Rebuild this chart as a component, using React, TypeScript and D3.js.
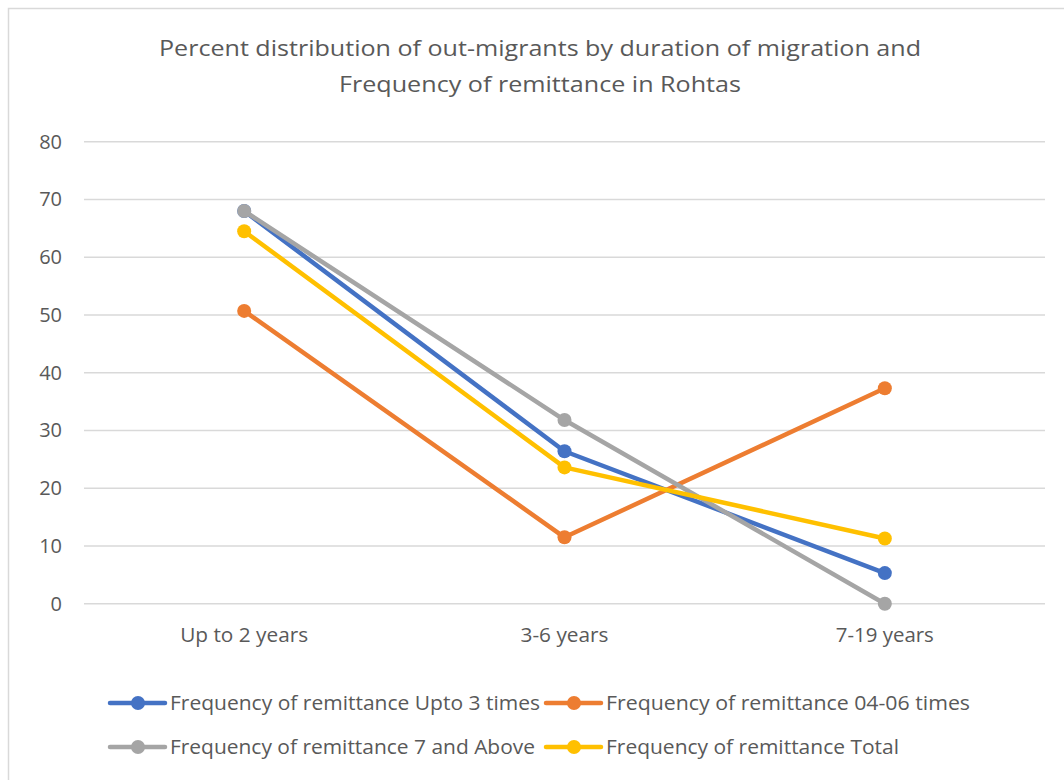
import React from 'react';
import { scaleBand, scaleLinear, line } from 'd3';

// chart values
const categories = ['Up to 2 years', '3-6 years', '7-19 years'];
const seriesNames = [
  'Frequency of remittance Upto 3 times',
  'Frequency of remittance 04-06 times',
  'Frequency of remittance 7 and Above',
  'Frequency of remittance Total',
];
const upto3 = [68.0, 26.4, 5.3];
const times4to6 = [50.7, 11.5, 37.3];
const sevenAbove = [68.0, 31.8, 0];
const total = [64.5, 23.6, 11.3];
const yTicks = [0, 10, 20, 30, 40, 50, 60, 70, 80];
const colors = ['#4472C4', '#ED7D31', '#A5A5A5', '#FFC000'];

const W = 1064;
const H = 780;
const font = '"Open Sans", "Noto Sans", sans-serif';
const textColor = '#595959';

export default function App() {
  const series = [upto3, times4to6, sevenAbove, total];

  const x = scaleBand<string>().domain(categories).range([84, 1045]);
  const y = scaleLinear().domain([0, 80]).range([603.7, 141.7]);
  const cx = (i: number) => (x(categories[i]) as number) + x.bandwidth() / 2;

  const lineGen = line<number>()
    .x((_, i) => cx(i))
    .y(d => y(d));

  // approximate rendered widths in the reference, for fitting the fallback font
  const catWidths = [128, 88, 98];
  const legendWidths = [370, 364, 365, 293];

  // legend layout: two columns, two rows
  const legendPos = [
    { lx: 110, ly: 703 },
    { lx: 546, ly: 703 },
    { lx: 110, ly: 747 },
    { lx: 546, ly: 747 },
  ];

  return (
    <svg width={W} height={H} style={{ position: 'absolute', left: 0, top: 0, background: '#fff' }}>
      <rect x={8.5} y={8.5} width={1100} height={800} fill="#fff" stroke="#d9d9d9" strokeWidth={1.5} />

      {/* title */}
      <text x={540} y={56} textAnchor="middle" fontFamily={font} fontSize={22} fill={textColor} textLength={762} lengthAdjust="spacingAndGlyphs">
        Percent distribution of out-migrants by duration of migration and
      </text>
      <text x={540} y={92} textAnchor="middle" fontFamily={font} fontSize={22} fill={textColor} textLength={402} lengthAdjust="spacingAndGlyphs">
        Frequency of remittance in Rohtas
      </text>

      {/* gridlines and y labels */}
      {yTicks.map(t => (
        <g key={t}>
          <line x1={84} x2={1045} y1={y(t)} y2={y(t)} stroke="#d9d9d9" strokeWidth={1.5} />
          <text x={62} y={y(t)} dy="0.35em" textAnchor="end" fontFamily={font} fontSize={20} fill={textColor}>
            {t}
          </text>
        </g>
      ))}

      {/* x labels */}
      {categories.map((c, i) => (
        <text key={c} x={cx(i)} y={642} textAnchor="middle" fontFamily={font} fontSize={20} fill={textColor} textLength={catWidths[i]} lengthAdjust="spacingAndGlyphs">
          {c}
        </text>
      ))}

      {/* lines and markers */}
      {series.map((s, si) => (
        <g key={si}>
          <path d={lineGen(s) || ''} fill="none" stroke={colors[si]} strokeWidth={4.5} strokeLinejoin="round" strokeLinecap="round" />
          {s.map((v, i) => (
            <circle key={i} cx={cx(i)} cy={y(v)} r={7} fill={colors[si]} />
          ))}
        </g>
      ))}

      {/* legend */}
      {seriesNames.map((name, i) => {
        const { lx, ly } = legendPos[i];
        return (
          <g key={name}>
            <line x1={lx} x2={lx + 55} y1={ly} y2={ly} stroke={colors[i]} strokeWidth={4.5} strokeLinecap="round" />
            <circle cx={lx + 28} cy={ly} r={7} fill={colors[i]} />
            <text x={lx + 60} y={ly} dy="0.35em" fontFamily={font} fontSize={20} fill={textColor} textLength={legendWidths[i]} lengthAdjust="spacingAndGlyphs">
              {name}
            </text>
          </g>
        );
      })}
    </svg>
  );
}
